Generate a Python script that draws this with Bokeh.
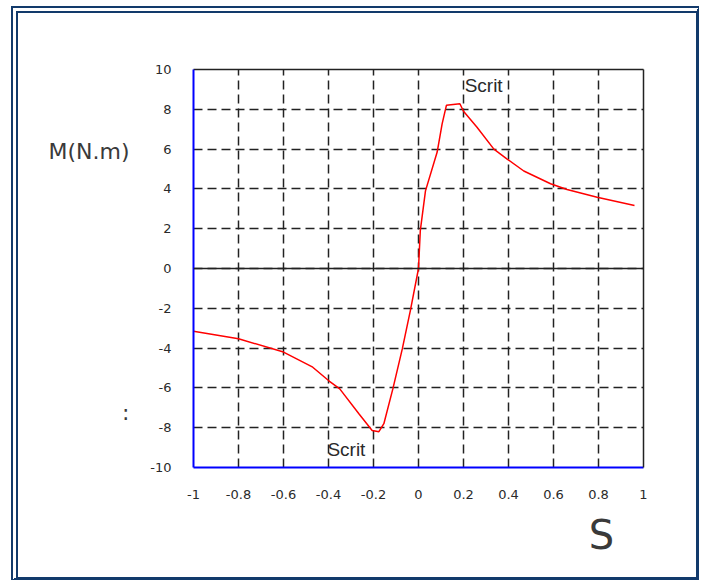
from bokeh.plotting import figure
from bokeh.models import (Range1d, FixedTicker, LinearAxis, Span, Label,
                          Grid, InlineStyleSheet)
from bokeh.embed import file_html
from bokeh.resources import INLINE

# Torque–slip characteristic: slip S versus torque M (N.m)
slip = [-1.0, -0.8, -0.6, -0.47, -0.4, -0.35, -0.265, -0.206, -0.176, -0.154,
        -0.114, -0.072, -0.036, 0.0, 0.008, 0.031, 0.083, 0.105, 0.124,
        0.184, 0.2, 0.26, 0.335, 0.394, 0.468, 0.587, 0.66, 0.794, 0.96]
torque = [-3.15, -3.53, -4.2, -4.96, -5.63, -6.05, -7.3, -8.14, -8.2, -7.8,
          -6.05, -4.04, -2.1, 0.0, 1.9, 3.9, 5.85, 7.27, 8.2,
          8.28, 7.9, 7.1, 6.0, 5.5, 4.9, 4.26, 3.97, 3.58, 3.17]

x_ticks = [-1, -0.8, -0.6, -0.4, -0.2, 0, 0.2, 0.4, 0.6, 0.8, 1]
x_tick_labels = ["-1", "-0.8", "-0.6", "-0.4", "-0.2", "0", "0.2", "0.4",
                 "0.6", "0.8", "1"]
y_ticks = [-10, -8, -6, -4, -2, 0, 2, 4, 6, 8, 10]
y_tick_labels = ["-10", "-8", "-6", "-4", "-2", "0", "2", "4", "6", "8", "10"]

TEXT = "#2a2a2a"
TITLE = "#3a3a3a"

# window-style border around the whole page: double on the left and top,
# single on the right and bottom
frame_css = InlineStyleSheet(css="""
:host { position: relative; }
:host::after {
  content: "";
  position: absolute;
  left: 11px; top: 6px; right: 3px; bottom: 0px;
  border-left: 7px double #123a6b;
  border-top: 7px double #123a6b;
  border-right: 3px solid #123a6b;
  border-bottom: 3px solid #123a6b;
  pointer-events: none;
}
""")

p = figure(width=702, height=580, output_backend="svg", toolbar_location=None,
           x_range=Range1d(-1, 1), y_range=Range1d(-10, 10),
           min_border_left=193, min_border_right=59,
           min_border_top=69, min_border_bottom=113,
           x_axis_type=None, y_axis_type=None)
p.stylesheets = [frame_css]
p.background_fill_color = "white"
p.border_fill_color = "white"
p.outline_line_color = None

def style_axis(ax, ticks, labels, color, size="13px", standoff=22):
    ax.ticker = FixedTicker(ticks=ticks)
    ax.axis_line_color = color
    ax.axis_line_width = 2
    ax.major_tick_line_color = None
    ax.minor_tick_line_color = None
    ax.major_tick_in = 0
    ax.major_tick_out = 0
    ax.major_label_overrides = {t: s for t, s in zip(ticks, labels)}
    ax.major_label_text_font = "DejaVu Sans"
    ax.major_label_text_font_size = size
    ax.major_label_text_color = TEXT
    ax.major_label_standoff = standoff

xaxis = LinearAxis()
style_axis(xaxis, x_ticks, x_tick_labels, "#0000ff")
p.add_layout(xaxis, "below")

yaxis = LinearAxis()
style_axis(yaxis, y_ticks, y_tick_labels, "#0000ff")
yaxis.major_label_orientation = "horizontal"
p.add_layout(yaxis, "left")

# axis titles, set beside the scales they name
s_title = LinearAxis()
style_axis(s_title, [0.813], ["S"], None, size="40px", standoff=10)
s_title.major_label_text_color = TITLE
p.add_layout(s_title, "below")

m_title = LinearAxis()
style_axis(m_title, [5.88, -7.24], ["M(N.m)", ":"], None, size="22px",
           standoff=18)
m_title.major_label_text_color = TITLE
m_title.major_label_orientation = "horizontal"
p.add_layout(m_title, "left")

# solid black frame edges on top and right
for side in ("above", "right"):
    ax = LinearAxis()
    style_axis(ax, [], [], "#222222")
    ax.axis_line_width = 1.5
    p.add_layout(ax, side)

# dashed grid
for dim, ticks in ((0, x_ticks), (1, y_ticks)):
    p.add_layout(Grid(dimension=dim, ticker=FixedTicker(ticks=ticks),
                      grid_line_color="#222222", grid_line_width=1.5,
                      grid_line_dash="9 5"))

p.add_layout(Span(location=0, dimension="width", line_color="#222222",
                  line_width=1.5))

p.line(slip, torque, line_color="#ff0000", line_width=1.5)

# critical-slip annotations
scrit_font = dict(text_font="Liberation Sans", text_font_size="19px",
                  text_color=TEXT)
p.add_layout(Label(x=0.205, y=9.2, text="Scrit", text_baseline="middle",
                   text_align="left", **scrit_font))
p.add_layout(Label(x=-0.405, y=-9.1, text="Scrit", text_baseline="middle",
                   text_align="left", **scrit_font))

open("out.html", "w").write(file_html(p, INLINE))
